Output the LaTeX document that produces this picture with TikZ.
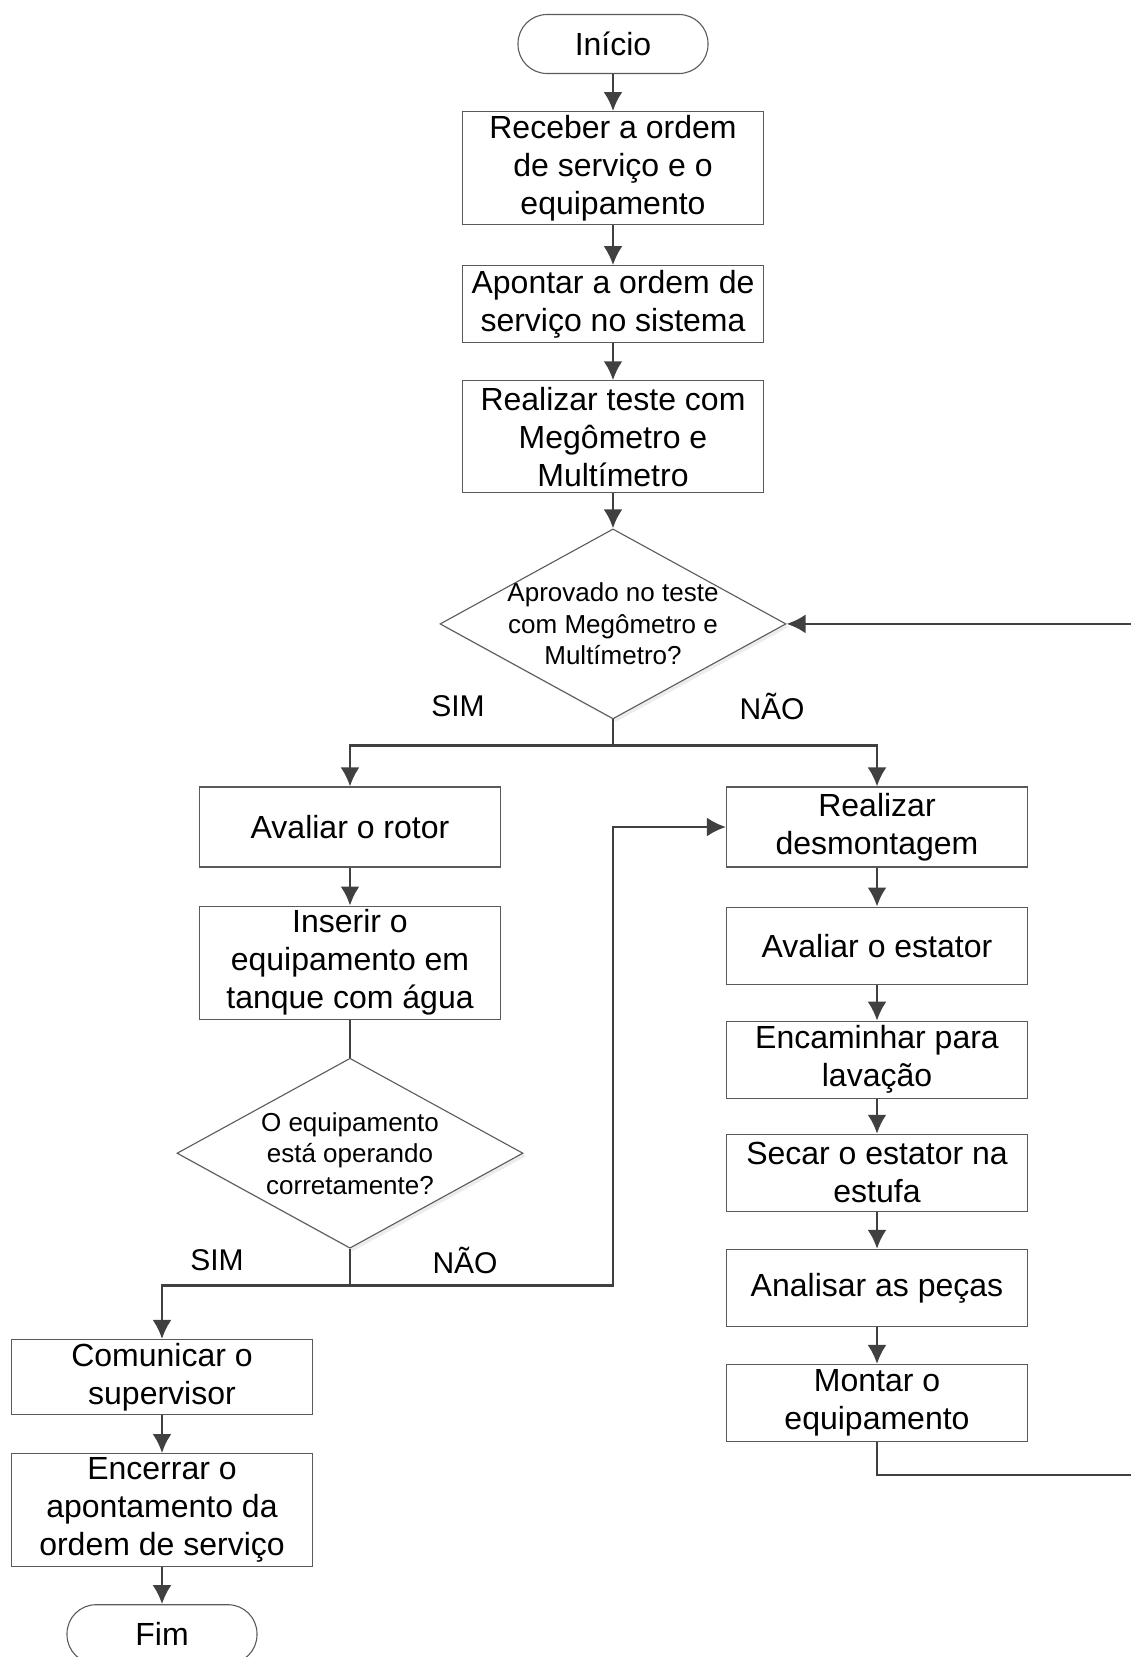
\documentclass[tikz,border=0pt]{standalone}
\usepackage{fontspec}
\setmainfont{Liberation Sans}
\usepackage{tikz}
\usetikzlibrary{positioning}
\usetikzlibrary{shapes,arrows.meta,shadows}
\definecolor{linha}{HTML}{404040}
\definecolor{borda}{HTML}{5A5A5A}
\tikzstyle{block} = [rectangle, draw=borda, line width=1.1pt, fill=white,
align=center, minimum width=301pt, minimum height=77pt, inner sep=0pt,
font=\fontsize{32}{38}\selectfont]
\tikzstyle{term} = [rectangle, draw=borda, line width=1.1pt, rounded corners=29pt,
minimum width=190pt, minimum height=59pt, font=\fontsize{32}{38}\selectfont]
\tikzstyle{decision} = [diamond, draw=borda, line width=1.1pt, fill=white, aspect=1.82,
minimum width=346pt, minimum height=190pt, inner sep=-12pt, align=center,
font=\fontsize{26}{31.5}\selectfont,
drop shadow={shadow xshift=3pt, shadow yshift=-3pt, fill=black!15}]
\tikzstyle{lbl} = [font=\fontsize{30}{34}\selectfont]
\tikzstyle{line} = [draw=linha, line width=2.7pt, -{Latex[length=19pt,width=19pt]}]
\tikzstyle{conn} = [draw=linha, line width=2.7pt]

\begin{document}
\begin{tikzpicture}[x=1pt, y=-1pt, node distance=38pt]
    \useasboundingbox (0,0) rectangle (1131,1657);
    % nodes
    \node [term] (inicio) at (613,44) {Início};
    \node [block, minimum height=113pt, below=37pt of inicio] (receb) {Receber a ordem\\de serviço e o\\equipamento};
    \node [block, below=40pt of receb] (apont) {Apontar a ordem de\\serviço no sistema};
    \node [block, minimum height=112pt, below=37pt of apont] (teste) {Realizar teste com\\Megômetro e\\Multímetro};
    \node [decision, below=35pt of teste] (aprov) {Aprovado no teste\\com Megômetro e\\Multímetro?};
    \node [lbl] (sim1) at (458,706) {SIM};
    \node [lbl] (nao1) at (772,706) {NÃO};

    \node [block, minimum height=80pt] (rotor) at (350,827) {Avaliar o rotor};
    \node [block, minimum height=113pt, below=38pt of rotor] (inser) {Inserir o\\equipamento em\\tanque com água};
    \node [decision, below=38pt of inser] (opera) {O equipamento\\está operando\\corretamente?};
    \node [lbl] (sim2) at (217,1260) {SIM};
    \node [lbl] (nao2) at (465,1260) {NÃO};
    \node [block, minimum height=75pt] (comun) at (162,1377) {Comunicar o\\supervisor};
    \node [block, minimum height=113pt, below=38pt of comun] (encer) {Encerrar o\\apontamento da\\ordem de serviço};
    \node [term, below=37pt of encer] (fim) {Fim};

    \node [block, minimum height=80pt] (desmo) at (877,827) {Realizar\\desmontagem};
    \node [block, below=39pt of desmo] (estat) {Avaliar o estator};
    \node [block, below=36pt of estat] (encam) {Encaminhar para\\lavação};
    \node [block, below=35pt of encam] (secar) {Secar o estator na\\estufa};
    \node [block, below=37pt of secar] (anali) {Analisar as peças};
    \node [block, below=37pt of anali] (monta) {Montar o\\equipamento};

    % edges
    \path [line] (inicio) -- (receb);
    \path [line] (receb) -- (apont);
    \path [line] (apont) -- (teste);
    \path [line] (teste) -- (aprov);
    \coordinate [below=26pt of aprov.south] (jun1);
    \draw [line] (aprov.south) -- (jun1) -| (rotor.north);
    \draw [line] (jun1) -| (desmo.north);
    \path [line] (rotor) -- (inser);
    \path [conn] (inser) -- (opera);
    \coordinate [below=37pt of opera.south] (jun2);
    \draw [line] (opera.south) -- (jun2) -| (comun.north);
    \coordinate (ret) at (aprov.south |- jun2);
    \draw [line] (jun2) -- (ret) |- (desmo.west);
    \path [line] (comun) -- (encer);
    \path [line] (encer) -- (fim);
    \path [line] (desmo) -- (estat);
    \path [line] (estat) -- (encam);
    \path [line] (encam) -- (secar);
    \path [line] (secar) -- (anali);
    \path [line] (anali) -- (monta);
    \coordinate [below=33pt of monta.south] (jun3);
    \coordinate (margem) at (1140,0);
    \draw [line] (monta.south) -- (jun3) -- (jun3 -| margem) |- (aprov.east);

\end{tikzpicture}
\end{document}
